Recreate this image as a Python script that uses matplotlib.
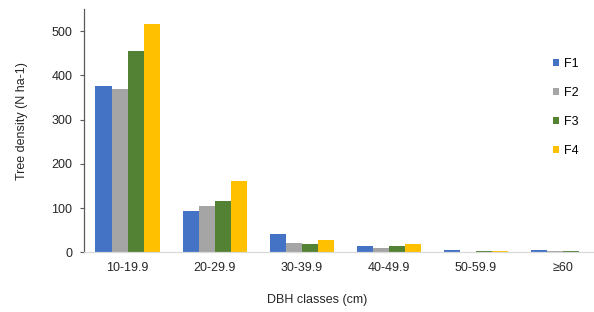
import matplotlib
matplotlib.use("Agg")
import matplotlib.pyplot as plt
import numpy as np

plt.rcParams['font.family'] = ['Liberation Sans', 'DejaVu Sans']

categories = ["10-19.9", "20-29.9", "30-39.9", "40-49.9", "50-59.9", "≥60"]
series_names = ["F1", "F2", "F3", "F4"]
F1 = [375, 94, 41, 14, 5, 5]
F2 = [370, 105, 22, 10, 1, 3]
F3 = [456, 116, 18, 14, 3, 3]
F4 = [515, 161, 28, 18, 3, 0]
colors = ["#4472C4", "#A5A5A5", "#548235", "#FFC000"]
yticks = [0, 100, 200, 300, 400, 500]

fig = plt.figure(figsize=(5.94, 3.12), dpi=100)
ax = fig.add_axes([84/594, 1-252.3/312, (606.6-84)/594, (252.3-9)/312])

x = np.arange(len(categories))
w = 0.184
handles = []
for i, (vals, c, name) in enumerate(zip([F1, F2, F3, F4], colors, series_names)):
    b = ax.bar(x + (i - 1.5) * w, vals, width=w, color=c, label=name)
    handles.append(b)

ax.set_xlim(-0.5, len(categories) - 0.5)
ax.set_ylim(0, 550)
ax.set_yticks(yticks)
ax.set_xticks(x)
ax.set_xticklabels(categories)
ax.tick_params(axis='x', length=0, labelsize=9, pad=7, colors='#262626')
ax.tick_params(axis='y', length=3, width=0.8, color='#595959', labelsize=9, pad=5.5, labelcolor='#262626')
for s in ['top', 'right']:
    ax.spines[s].set_visible(False)
ax.spines['left'].set_color('#595959')
ax.spines['left'].set_linewidth(0.9)
ax.spines['bottom'].set_color('#D9D9D9')
ax.spines['bottom'].set_linewidth(0.9)

fig.text(22/594, 1-121/312, "Tree density (N ha-1)", rotation=90, ha='center', va='center', fontsize=9, color='#262626')
fig.text(317/594, 1-300/312, "DBH classes (cm)", ha='center', va='center', fontsize=9, color='#262626')

fig.legend(handles=handles, labels=series_names, loc='upper left', bbox_to_anchor=(553/594, 1-58/312),
           frameon=False, fontsize=9, handlelength=0.5, handleheight=0.5, handletextpad=0.35,
           labelspacing=1.36, borderpad=0, borderaxespad=0)

fig.savefig("out.png", dpi=100)
